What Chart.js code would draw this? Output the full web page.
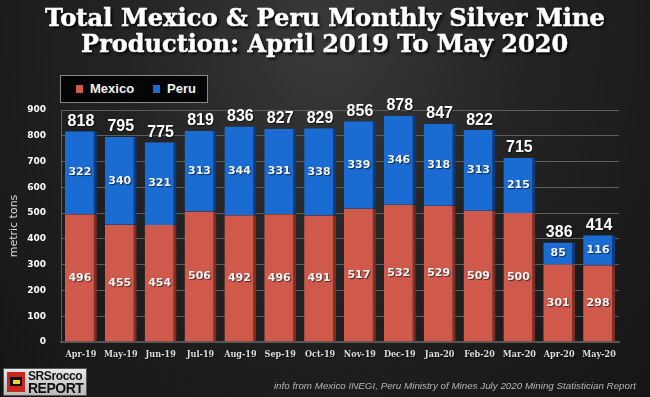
<!DOCTYPE html>
<html>
<head>
<meta charset="utf-8">
<script src="https://cdn.jsdelivr.net/npm/chart.js@4.4.0/dist/chart.umd.min.js"></script>
<style>
  html, body { margin: 0; padding: 0; }
  body {
    width: 650px; height: 397px; overflow: hidden; position: relative;
    background: radial-gradient(ellipse at 50% 10%, #3a3a3a 0%, #232323 45%, #151515 100%);
    font-family: "DejaVu Sans", sans-serif;
  }
  #chart { position: absolute; left: 0; top: 0; }
  .title {
    position: absolute; left: 0; top: 5px; width: 650px; text-align: center;
    color: #fff; font-family: "DejaVu Serif", serif; font-weight: bold;
    font-size: 25px; line-height: 26px;
    -webkit-text-stroke: 0.5px #fff;
    text-shadow: 2px 2px 3px #000;
  }
  .title span { display: inline-block; white-space: nowrap; transform-origin: 50% 50%; }
  .legend {
    position: absolute; left: 60px; top: 75px; width: 146px; height: 26px;
    background: #050505; border: 1px solid #8a8a8a;
    color: #f2f2f2; font-family: "Liberation Sans", sans-serif; font-weight: bold; font-size: 13px;
  }
  .legend .item { position: absolute; top: 5px; }
  .legend .sw { display: inline-block; width: 7px; height: 8px; margin-right: 7px; vertical-align: 0px; }
  .footer {
    position: absolute; right: 14px; top: 380px; color: #b5b5b5;
    font-family: "Liberation Sans", sans-serif; font-style: italic; font-size: 9.8px;
  }
  .logo {
    position: absolute; left: 3px; top: 368px; width: 82px; height: 26px;
    background: linear-gradient(#e8e8e8, #b9b9b9); border: 1px solid #555;
  }
  .logo .icon { position: absolute; left: 3px; top: 3px; width: 18px; height: 20px; background: #c8281e; }
  .logo .icon i { position: absolute; left: 3px; top: 5px; width: 12px; height: 9px; background: #111; }
  .logo .icon b { position: absolute; left: 6px; top: 8px; width: 7px; height: 4px; background: #e5d43a; }
  .logo .t1 { position: absolute; left: 24px; top: 0px; font: bold 12px "Liberation Sans", sans-serif; color: #111; letter-spacing: -0.4px; }
  .logo .t2 { position: absolute; left: 24px; top: 11px; font: bold 14px "Liberation Sans", sans-serif; color: #111; letter-spacing: -0.5px; }
</style>
</head>
<body>
<canvas id="chart" width="650" height="397"></canvas>
<div class="title">
  <span id="t1">Total Mexico &amp; Peru Monthly Silver Mine</span><br>
  <span id="t2">Production: April 2019 To May 2020</span>
</div>
<div class="legend">
  <span class="item" style="left:15px"><span class="sw" style="background:#d05a4c"></span>Mexico</span>
  <span class="item" style="left:92px"><span class="sw" style="background:#1a6ad0"></span>Peru</span>
</div>
<div class="logo"><div class="icon"><i></i><b></b></div><div class="t1">SRSrocco</div><div class="t2">REPORT</div></div>
<div class="footer">info from Mexico INEGI, Peru Ministry of Mines July 2020 Mining Statistician Report</div>
<script>
// 데이터
const months = ['Apr-19', 'May-19', 'Jun-19', 'Jul-19', 'Aug-19', 'Sep-19', 'Oct-19',
  'Nov-19', 'Dec-19', 'Jan-20', 'Feb-20', 'Mar-20', 'Apr-20', 'May-20'];
const mexico = [496, 455, 454, 506, 492, 496, 491, 517, 532, 529, 509, 500, 301, 298];
const peru = [322, 340, 321, 313, 344, 331, 338, 339, 346, 318, 313, 215, 85, 116];
const totals = [818, 795, 775, 819, 836, 827, 829, 856, 878, 847, 822, 715, 386, 414];
const yTicks = [0, 100, 200, 300, 400, 500, 600, 700, 800, 900];

// 제목 폭 맞추기
function fitTitle(id, w) {
  const el = document.getElementById(id);
  const cur = el.getBoundingClientRect().width;
  el.style.transform = 'scaleX(' + (w / cur) + ')';
}
fitTitle('t1', 560);
fitTitle('t2', 487);

// 막대 안/위 숫자 라벨 + x축 라벨
const labelPlugin = {
  id: 'barLabels',
  afterDatasetsDraw(chart) {
    const ctx = chart.ctx;
    ctx.save();
    ctx.textAlign = 'center';
    ctx.textBaseline = 'middle';
    ctx.shadowColor = 'rgba(0,0,0,0.6)';
    ctx.shadowOffsetX = 1;
    ctx.shadowOffsetY = 1;
    ctx.shadowBlur = 1;
    chart.data.datasets.forEach(function (ds, di) {
      const meta = chart.getDatasetMeta(di);
      meta.data.forEach(function (bar, i) {
        ctx.fillStyle = '#f4f4f4';
        ctx.font = 'bold 11px "DejaVu Sans"';
        ctx.fillText(ds.data[i], bar.x - 1, (bar.y + bar.base) / 2);
      });
    });
    const top = chart.getDatasetMeta(1);
    top.data.forEach(function (bar, i) {
      ctx.fillStyle = '#ffffff';
      ctx.font = 'bold 16px "Liberation Sans"';
      ctx.fillText(totals[i], bar.x, bar.y - 10);
    });
    // x축 라벨
    const xs = chart.scales.x;
    ctx.fillStyle = '#dedede';
    ctx.font = 'bold 9px "DejaVu Serif Condensed", "DejaVu Serif"';
    months.forEach(function (m, i) {
      ctx.fillText(m, xs.getPixelForValue(i), chart.chartArea.bottom + 13);
    });
    ctx.restore();
  }
};

const ctx = document.getElementById('chart').getContext('2d');
const chart = new Chart(ctx, {
  type: 'bar',
  data: {
    labels: months,
    datasets: [{
      label: 'Mexico',
      data: mexico,
      backgroundColor: '#cf5a4c',
      borderColor: '#7e2e25',
      borderWidth: { top: 0, right: 3, bottom: 0, left: 0 },
      borderSkipped: false
    }, {
      label: 'Peru',
      data: peru,
      backgroundColor: '#1a6bd2',
      borderColor: '#0b3c80',
      borderWidth: { top: 0, right: 3, bottom: 0, left: 0 },
      borderSkipped: false
    }]
  },
  options: {
    animation: false,
    responsive: false,
    layout: { padding: { top: 110, right: 31, bottom: 35, left: 0 } },
    datasets: { bar: { categoryPercentage: 1, barPercentage: 0.8 } },
    plugins: { legend: { display: false }, title: { display: false }, tooltip: { enabled: false } },
    scales: {
      x: {
        stacked: true,
        grid: { display: false },
        border: { color: '#555', width: 2 },
        ticks: { display: false },
        afterFit(scale) { scale.height = 20; }
      },
      y: {
        stacked: true,
        min: 0,
        max: 900,
        afterBuildTicks(scale) { scale.ticks = yTicks.map(v => ({ value: v })); },
        grid: { color: '#5e5e5e', drawTicks: false },
        border: { display: true, color: '#5e5e5e' },
        ticks: { color: '#ffffff', font: { family: 'DejaVu Sans', weight: 'bold', size: 9 }, padding: 15 },
        title: { display: true, text: 'metric tons', color: '#d8d8d8', font: { family: 'DejaVu Sans', size: 11 }, padding: { top: 8, bottom: 0 } },
        afterFit(scale) { scale.width = 61; }
      }
    }
  },
  plugins: [labelPlugin]
});
</script>
</body>
</html>
